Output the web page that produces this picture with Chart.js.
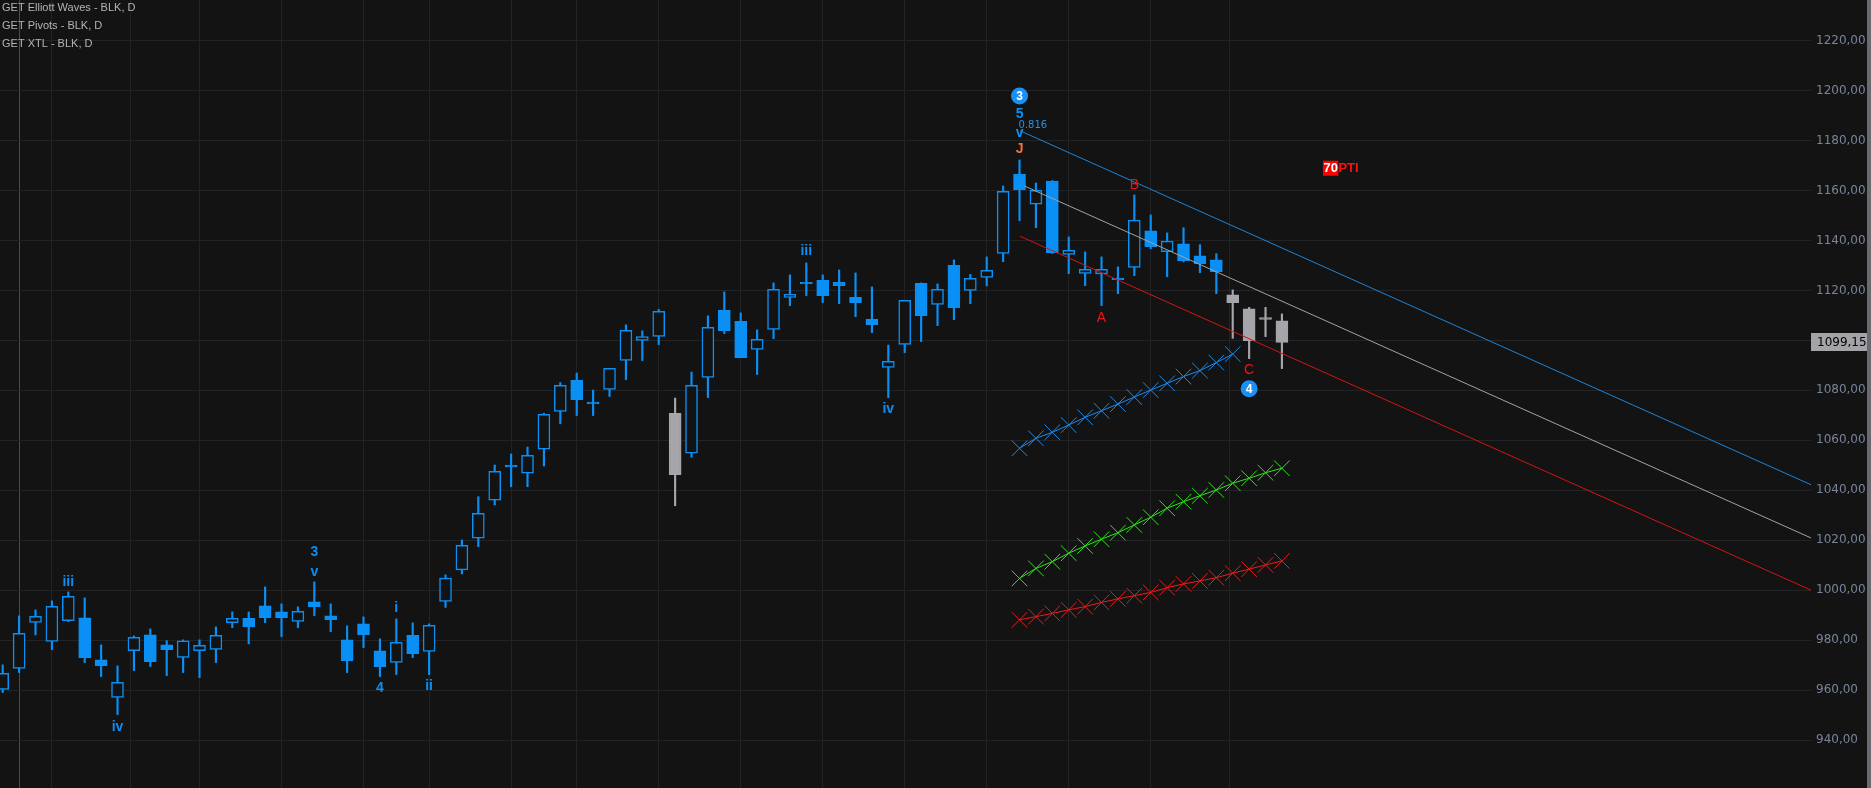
<!DOCTYPE html>
<html><head><meta charset="utf-8">
<script src="https://cdn.jsdelivr.net/npm/chart.js@4.4.1/dist/chart.umd.min.js"></script>
<style>
html,body{margin:0;padding:0;background:#131313;overflow:hidden;}
#wrap{position:relative;width:1871px;height:788px;}
canvas{display:block;}
</style></head><body>
<div id="wrap"><canvas id="c" width="1871" height="788"></canvas></div>
<script>
// ---------- DATA ----------
const opens  = [960.3,968.7,987.1,979.5,987.8,988.9,972.1,957.1,975.8,982.1,978.1,973.1,975.8,976.3,987.0,988.7,993.7,991.3,987.5,995.3,
                989.7,980.1,986.5,975.7,971.1,981.9,975.5,995.5,1008.1,1020.8,1036.0,1050.1,1046.8,1056.4,1071.6,1084.0,1075.3,1080.4,1092.0,1100.0,
                1101.6,1070.8,1054.8,1085.2,1112.0,1107.6,1096.4,1104.4,1117.2,1123.2,1124.0,1123.2,1117.2,1108.4,1089.2,1098.4,1122.8,1114.4,1130.0,1120.0,
                1125.2,1134.8,1166.6,1154.5,1163.8,1134.4,1126.8,1126.6,1124.8,1129.2,1143.8,1135.5,1138.6,1133.8,1132.2,1118.2,1112.6,1109.1,1107.8];
const highs  = [970.1,989.7,992.1,995.7,999.3,996.9,978.1,969.7,981.7,984.5,979.8,980.1,980.1,985.3,991.3,991.3,1001.3,994.5,993.3,1003.3,
                994.5,985.7,989.3,980.5,988.5,986.9,986.5,1006.1,1020.1,1037.4,1050.1,1054.5,1057.3,1070.8,1083.1,1086.9,1080.1,1088.8,1106.2,1103.8,
                1112.4,1076.9,1087.3,1109.8,1119.4,1111.0,1104.2,1123.0,1126.2,1131.0,1126.2,1128.2,1127.0,1121.4,1098.1,1116.0,1123.0,1122.6,1132.2,1126.4,
                1133.4,1161.8,1172.2,1163.0,1164.0,1141.4,1135.4,1133.4,1129.4,1158.2,1150.2,1143.0,1145.1,1138.3,1134.7,1120.2,1113.2,1113.2,1110.6];
const lows   = [959.0,967.0,982.1,976.2,987.4,971.0,965.4,950.2,967.8,969.4,965.8,967.0,965.0,971.0,985.0,978.5,987.0,981.4,985.0,989.8,
                983.4,967.0,977.0,965.4,966.2,973.0,966.2,993.1,1006.5,1017.4,1034.1,1041.4,1041.4,1049.7,1066.6,1069.9,1069.9,1077.5,1084.3,1091.9,
                1098.3,1033.8,1053.2,1077.1,1102.7,1093.1,1086.3,1100.7,1113.9,1117.9,1115.1,1114.7,1109.5,1103.1,1077.1,1095.1,1099.5,1105.9,1108.3,1114.7,
                1121.8,1131.5,1147.9,1145.1,1134.8,1126.7,1121.9,1113.9,1118.7,1125.9,1136.7,1125.5,1131.4,1127.1,1118.7,1100.8,1092.7,1101.5,1088.7];
const closes = [966.7,982.7,989.5,993.5,997.5,973.0,969.8,963.1,981.1,971.4,976.2,979.7,977.9,981.9,988.7,985.4,989.0,989.0,991.5,993.4,
                988.2,971.8,982.2,969.4,979.1,974.6,985.9,1004.8,1017.9,1030.8,1047.6,1049.3,1054.0,1070.4,1082.0,1076.3,1074.7,1088.8,1104.0,1101.5,
                1111.6,1046.2,1082.0,1105.2,1103.9,1093.1,1100.4,1120.4,1118.4,1122.7,1117.9,1121.9,1115.1,1106.3,1091.6,1116.0,1109.9,1120.4,1113.1,1124.8,
                1128.0,1159.7,1160.3,1160.1,1135.1,1136.0,1128.4,1128.4,1124.3,1148.1,1137.5,1139.7,1131.9,1130.7,1127.5,1115.1,1099.9,1108.4,1099.15];
const greyCandles = [41,75,76,77,78];
const lastPrice = 1099.15;

// channel lines [idx, price] end points
const chanBlue = [[62.03,1183.9],[110.26,1042.2]];
const chanGrey = [[62.3,1161.8],[110.26,1020.9]];
const chanRed  = [[62.03,1141.7],[110.26,1000.0]];

// XTL cross-marker lines, one value per candle starting at xtlStart
const xtlStart = 62;
const xtlBlue  = [1056.8,1060.8,1063.2,1066.1,1069.2,1071.8,1074.5,1077.3,1080.1,1082.8,1085.5,1087.9,1091.1,1094.5];
const xtlGreen = [1004.7,1008.7,1011.4,1014.8,1017.7,1020.4,1023.0,1026.1,1029.2,1032.8,1035.4,1037.8,1040.1,1042.8,1044.8,1047.0,1048.8];
const xtlRed   = [988.1,989.4,990.7,992.1,993.4,995.1,996.5,997.8,999.1,1001.0,1002.5,1003.7,1005.0,1006.8,1008.4,1010.1,1011.7];

// wave labels
const blueLabelText  = ['iii','iv','3','v','4','i','ii','iii','iv','5','v'];
const blueLabelIdx   = [4,7,19,19,23,24,26,49,54,62,62];
const blueLabelPrice = [1003.4,945.2,1015.2,1007.4,960.7,992.7,961.4,1135.8,1072.4,1190.5,1183.1];
const redLabelText   = ['A','B','C'];
const redLabelIdx    = [67,69,76];
const redLabelPrice  = [1108.7,1162.2,1088.1];
const circleText     = ['3','4'];
const circleIdx      = [62,76];
const circlePrice    = [1197.8,1080.6];
const jLabel = {text:'J', idx:62, price:1176.5};
const ratioLabel = {text:'0.816', idx:62, price:1186.2};
const ptiLabel = {num:'70', text:'PTI', idx:80.5, price:1168.9};

const legendLines = ['GET Elliott Waves - BLK, D','GET Pivots - BLK, D','GET XTL - BLK, D'];
const yTickValues = [940,960,980,1000,1020,1040,1060,1080,1100,1120,1140,1160,1180,1200,1220];
const xGridIdx = [1,3,7.78,12,17,22,26,31,35,40,45,50,55,60,65,70,74.78];
const sessionIdx = 1;

// ---------- STYLE ----------
const BLUE = '#0a8ff5', GREY = '#a6a5aa', BG = '#131313';
const idx = opens.map((_,i)=>i);
const col = idx.map(i => greyCandles.includes(i) ? GREY : BLUE);
const fill = idx.map(i => closes[i] >= opens[i] ? BG : col[i]);

function xtlDs(vals, color){
  return {type:'line', data: vals.map((v,k)=>({x:xtlStart+k, y:v})), borderColor:color, borderWidth:1,
    pointStyle:'crossRot', pointRadius:11, pointBorderColor:color, pointBackgroundColor:color, pointBorderWidth:1, order:0};
}
function chanDs(pts, color){
  return {type:'line', data: pts.map(p=>({x:p[0], y:p[1]})), borderColor:color, borderWidth:1, pointRadius:0, order:1};
}
function noPad(s){ s.paddingTop = 0; s.paddingBottom = 0; s.paddingLeft = 0; s.paddingRight = 0; }

const overlay = {
  id:'overlay',
  afterDatasetsDraw(chart){
    const ctx = chart.ctx, xs = chart.scales.x, ys = chart.scales.y;
    const X = v => xs.getPixelForValue(v), Y = v => ys.getPixelForValue(v);
    ctx.save();
    ctx.textAlign = 'center'; ctx.textBaseline = 'middle';
    ctx.font = 'bold 14px "Liberation Sans"';
    ctx.fillStyle = BLUE;
    blueLabelText.forEach((t,k)=> ctx.fillText(t, X(blueLabelIdx[k]), Y(blueLabelPrice[k])));
    ctx.font = '14px "Liberation Sans"';
    ctx.fillStyle = '#f01515';
    redLabelText.forEach((t,k)=> ctx.fillText(t, X(redLabelIdx[k]), Y(redLabelPrice[k])));
    ctx.font = 'bold 14px "Liberation Sans"';
    ctx.fillStyle = '#e8733f';
    ctx.fillText(jLabel.text, X(jLabel.idx), Y(jLabel.price));
    ctx.font = '10px "DejaVu Sans"';
    ctx.fillStyle = '#2b8fe6';
    ctx.textAlign = 'left';
    ctx.fillText(ratioLabel.text, X(ratioLabel.idx)-1, Y(ratioLabel.price));
    ctx.textAlign = 'center';
    circleText.forEach((t,k)=>{
      const cx = X(circleIdx[k]), cy = Y(circlePrice[k]);
      ctx.beginPath(); ctx.arc(cx, cy, 8.5, 0, Math.PI*2); ctx.fillStyle = '#1a90f5'; ctx.fill();
      ctx.fillStyle = '#ffffff'; ctx.font = 'bold 12px "Liberation Sans"';
      ctx.fillText(t, cx, cy+0.5);
    });
    const px = X(ptiLabel.idx), py = Y(ptiLabel.price);
    ctx.font = 'bold 13px "Liberation Sans"';
    const w = ctx.measureText(ptiLabel.num).width;
    ctx.fillStyle = '#ff0000'; ctx.fillRect(px, py-7.5, w+1, 15);
    ctx.textAlign = 'left';
    ctx.fillStyle = '#ffffff'; ctx.fillText(ptiLabel.num, px+0.5, py+0.5);
    ctx.fillStyle = '#ff1010'; ctx.fillText(ptiLabel.text, px+w+1, py+0.5);
    ctx.restore();
  },
  afterDraw(chart){
    const ctx = chart.ctx, ys = chart.scales.y, area = chart.chartArea;
    ctx.save();
    ctx.font = '11px "Liberation Sans"'; ctx.fillStyle = '#b4b4b4';
    ctx.textAlign = 'left'; ctx.textBaseline = 'alphabetic';
    legendLines.forEach((t,k)=> ctx.fillText(t, 2, 10.5 + k*18));
    const ly = ys.getPixelForValue(lastPrice);
    ctx.fillStyle = '#a4a4a8';
    ctx.fillRect(area.right, Math.round(ly)-9, 56, 18);
    ctx.fillStyle = '#000000'; ctx.font = '12px "DejaVu Sans"'; ctx.textBaseline='middle';
    ctx.fillText(lastPrice.toFixed(2).replace('.', ','), area.right+6, ly+0.5);
    ctx.fillStyle = '#6a6a6e';
    ctx.fillRect(chart.width-4, 0, 4, chart.height);
    ctx.restore();
  }
};

new Chart(document.getElementById('c'), {
  type:'bar',
  data:{ datasets:[
    xtlDs(xtlRed,'#f01a1a'),
    xtlDs(xtlGreen,'#2ee51a'),
    xtlDs(xtlBlue,'#1a8cf0'),
    chanDs(chanBlue,'#1f84d6'),
    chanDs(chanGrey,'#a3a3a3'),
    chanDs(chanRed,'#d41515'),
    {type:'bar', data: idx.map(i=>({x:i, y:[lows[i], highs[i]]})), backgroundColor: col, borderWidth:0,
      barThickness:1.5, grouped:false, order:5},
    {type:'bar', data: idx.map(i=>({x:i, y:[Math.min(opens[i],closes[i]), Math.max(opens[i],closes[i])]})),
      backgroundColor: fill, borderColor: col, borderWidth:1.5, borderSkipped:false,
      barThickness:12, grouped:false, order:4}
  ]},
  options:{
    responsive:false, animation:false, devicePixelRatio:1, events:[],
    layout:{padding:0, autoPadding:false},
    plugins:{legend:{display:false}, tooltip:{enabled:false}, title:{display:false}},
    scales:{
      x:{type:'linear', min:-0.165, max:110.26, offset:false,
        afterBuildTicks: s => { s.ticks = xGridIdx.map(v=>({value:v})); },
        afterFit: s => { s.height = 0; noPad(s); },
        ticks:{display:false},
        grid:{offset:false, drawTicks:false, color: c => (c.tick && c.tick.value===sessionIdx) ? '#4b4b50' : '#232326', lineWidth:1},
        border:{display:false}},
      y:{type:'linear', position:'right', min:920.8, max:1236.25,
        afterBuildTicks: s => { s.ticks = yTickValues.map(v=>({value:v})); },
        afterFit: s => { s.width = 60; noPad(s); },
        ticks:{color: c => c.tick.value===1100 ? 'rgba(0,0,0,0)' : '#78849a', font:{family:'DejaVu Sans', size:12}, padding:5,
          callback: v => v.toFixed(2).replace('.', ',')},
        grid:{offset:false, drawTicks:false, color:'#232326', lineWidth:1},
        border:{display:false}}
    }
  },
  plugins:[overlay]
});
</script>
</body></html>
